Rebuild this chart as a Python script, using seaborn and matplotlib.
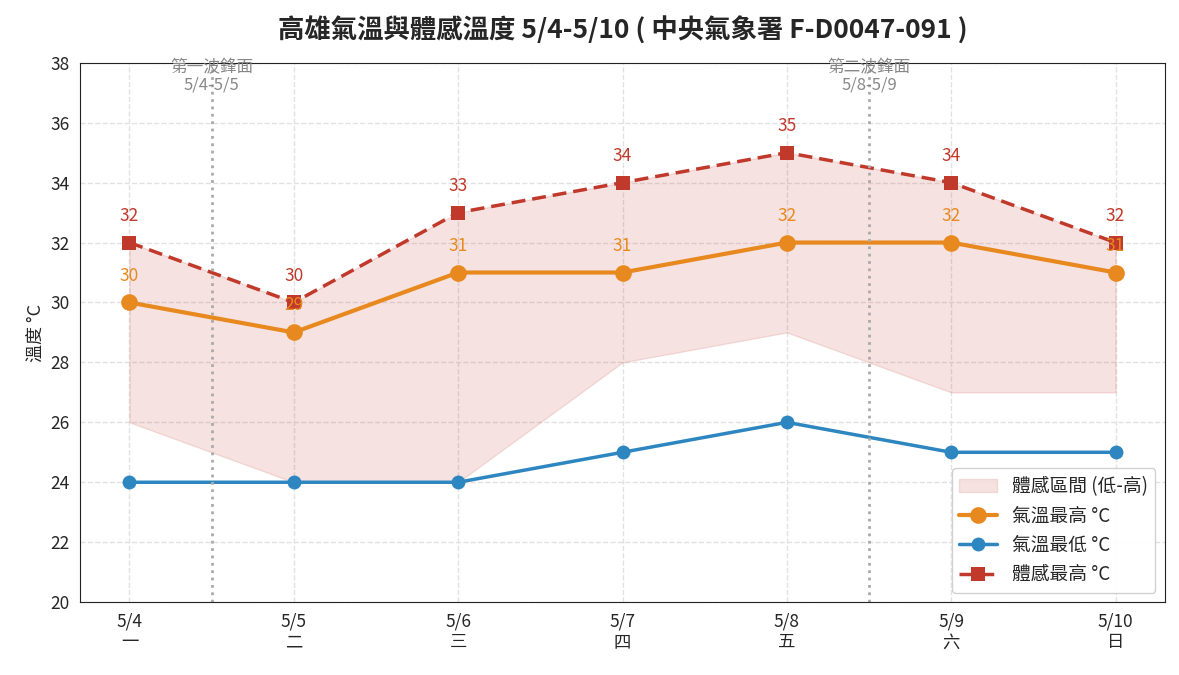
import numpy as np
import pandas as pd
import seaborn as sns
import matplotlib.pyplot as plt

# data
dates = ['5/4', '5/5', '5/6', '5/7', '5/8', '5/9', '5/10']
weekdays = ['一', '二', '三', '四', '五', '六', '日']
temp_max = [30, 29, 31, 31, 32, 32, 31]
temp_min = [24, 24, 24, 25, 26, 25, 25]
feels_max = [32, 30, 33, 34, 35, 34, 32]
feels_min = [26, 24, 24, 28, 29, 27, 27]
fronts = [(0.5, '第一波鋒面\n5/4-5/5'), (4.5, '第二波鋒面\n5/8-5/9')]

sns.set_style('white')
plt.rcParams['font.family'] = ['Noto Sans CJK TC', 'DejaVu Sans']
plt.rcParams['axes.unicode_minus'] = False

c_max, c_min, c_feel = '#e8891f', '#2e86c1', '#c0392b'

df = pd.DataFrame({'pos': np.arange(len(dates)), 'tmax': temp_max, 'tmin': temp_min,
                   'fmax': feels_max, 'fmin': feels_min})

fig = plt.figure(figsize=(11.79, 6.75), dpi=100)
ax = fig.add_axes([0.068, 0.108, 0.920, 0.799])

ax.fill_between(df['pos'], df['fmin'], df['fmax'], color=c_feel, alpha=0.14,
                label='體感區間 (低-高)')
sns.lineplot(data=df, x='pos', y='tmax', ax=ax, color=c_max, lw=3, marker='o',
             markersize=12, markeredgewidth=0, label='氣溫最高 °C')
sns.lineplot(data=df, x='pos', y='tmin', ax=ax, color=c_min, lw=2.5, marker='o',
             markersize=10, markeredgewidth=0, label='氣溫最低 °C')
sns.lineplot(data=df, x='pos', y='fmax', ax=ax, color=c_feel, lw=2.5, ls=(0, (4, 2)),
             marker='s', markersize=10, markeredgewidth=0, label='體感最高 °C')

for x, v in zip(df['pos'], temp_max):
    ax.text(x, v + 0.9, str(v), color=c_max, fontsize=12.5, ha='center', va='center')
for x, v in zip(df['pos'], feels_max):
    ax.text(x, v + 0.9, str(v), color=c_feel, fontsize=12.5, ha='center', va='center')

for x, txt in fronts:
    ax.axvline(x, color='#aaaaaa', ls=':', lw=2)
    ax.text(x, 37.55, txt, color='#888888', fontsize=12, ha='center', va='center',
            linespacing=1.05)

ax.set_xlim(-0.3, 6.3)
ax.set_ylim(20, 38)
ax.set_yticks(range(20, 39, 2))
ax.set_xticks(df['pos'])
ax.set_xticklabels([f'{d}\n{w}' for d, w in zip(dates, weekdays)])
ax.tick_params(labelsize=12.5, length=4)
ax.set_xlabel('')
ax.set_ylabel('溫度 °C', fontsize=13)
ax.grid(True, ls='--', color='#e2e2e2', lw=1)
for s in ax.spines.values():
    s.set_color('#222222')

ax.set_title('高雄氣溫與體感溫度 5/4-5/10 ( 中央氣象署 F-D0047-091 )',
             fontsize=19, fontweight='bold', pad=17)
ax.legend(loc='lower right', fontsize=13.5, frameon=True, framealpha=0.9,
          labelspacing=0.45)

fig.savefig('out.png', dpi=100)
